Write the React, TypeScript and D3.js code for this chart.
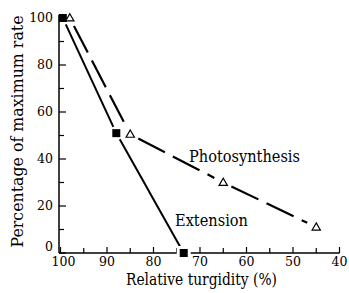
import React from "react";
import * as d3 from "d3";

const extensionTurgidity = [99.5, 88, 73.5];
const extensionRate = [100, 51, 0];
const photoTurgidity = [98, 85, 65, 45];
const photoRate = [100, 50.5, 30, 11];
const xTicksMajor = [100, 90, 80, 70, 60, 50, 40];
const xTicksMinor = [95, 85, 75, 65, 55, 45];
const yTicksMajor = [0, 20, 40, 60, 80, 100];
const yTicksMinor = [10, 30, 50, 70, 90];
const seriesLabels = ["Photosynthesis", "Extension"];
const xTitle = "Relative turgidity (%)";
const yTitle = "Percentage of maximum rate";

const W = 349;
const H = 293;
const FONT = "'DejaVu Serif', 'Liberation Serif', serif";

const x = d3.scaleLinear().domain([100, 40]).range([60.5, 339.5]);
const y = d3.scaleLinear().domain([0, 100]).range([253, 18]);

type P = [number, number];

function segments(xs: number[], ys: number[], g0: number, g1: number) {
  const pts: P[] = xs.map((v, i) => [x(v), y(ys[i])]);
  const segs: { x1: number; y1: number; x2: number; y2: number }[] = [];
  for (let i = 0; i < pts.length - 1; i++) {
    const [ax, ay] = pts[i];
    const [bx, by] = pts[i + 1];
    const L = Math.hypot(bx - ax, by - ay);
    const ux = (bx - ax) / L;
    const uy = (by - ay) / L;
    segs.push({
      x1: ax + ux * g0,
      y1: ay + uy * g0,
      x2: bx - ux * g1,
      y2: by - uy * g1,
    });
  }
  return segs;
}

export default function App() {
  const extSegs = segments(extensionTurgidity, extensionRate, 7, 7);
  const phoSegs = segments(photoTurgidity, photoRate, 9, 10);
  const triangle = d3.symbol().type(d3.symbolTriangle).size(30)();

  return (
    <svg
      width={W}
      height={H}
      style={{ position: "absolute", left: 0, top: 0, display: "block", background: "#fff", fontFamily: FONT }}
    >
      <rect x={0} y={0} width={W} height={H} fill="#fff" />
      {/* axes */}
      <line x1={59} y1={y(0)} x2={59} y2={15} stroke="#000" strokeWidth={1.5} />
      <line x1={59} y1={y(0)} x2={x(40)} y2={y(0)} stroke="#000" strokeWidth={1.5} />
      {yTicksMajor.map((t) => (
        <g key={"ym" + t}>
          <line x1={59} x2={66} y1={y(t)} y2={y(t)} stroke="#000" strokeWidth={1.2} />
          <text x={53} y={y(t) + (t === 0 ? -2 : 4)} textAnchor="end" fontSize={12.5}>
            {t}
          </text>
        </g>
      ))}
      {yTicksMinor.map((t) => (
        <line key={"yn" + t} x1={59} x2={64} y1={y(t)} y2={y(t)} stroke="#000" strokeWidth={1.2} />
      ))}
      {xTicksMajor.map((t) => (
        <g key={"xm" + t}>
          <line x1={x(t)} x2={x(t)} y1={y(0)} y2={y(0) - 6} stroke="#000" strokeWidth={1.2} />
          <text x={x(t) + (t === 100 ? 3 : 0)} y={266} textAnchor="middle" fontSize={12.5}>
            {t}
          </text>
        </g>
      ))}
      {xTicksMinor.map((t) => (
        <line key={"xn" + t} x1={x(t)} x2={x(t)} y1={y(0)} y2={y(0) - 5} stroke="#000" strokeWidth={1.2} />
      ))}
      {/* titles */}
      <text x={126} y={285} fontSize={16.5} textLength={151} lengthAdjust="spacingAndGlyphs">
        {xTitle}
      </text>
      <text
        transform={`translate(23, 131.5) rotate(-90)`}
        textAnchor="middle"
        fontSize={16.5}
        textLength={232}
        lengthAdjust="spacingAndGlyphs"
      >
        {yTitle}
      </text>
      {/* lines */}
      {extSegs.map((s, i) => (
        <line key={"e" + i} {...s} stroke="#000" strokeWidth={2} />
      ))}
      {phoSegs.map((s, i) => (
        <line key={"p" + i} {...s} stroke="#000" strokeWidth={2.2} strokeDasharray="30,9" />
      ))}
      {/* markers */}
      {extensionTurgidity.map((v, i) => (
        <rect
          key={"sq" + i}
          x={x(v) - 4}
          y={y(extensionRate[i]) - 4}
          width={8}
          height={8}
          fill="#000"
          stroke="#fff"
          strokeWidth={i === extensionTurgidity.length - 1 ? 6 : 0}
          paintOrder="stroke"
        />
      ))}
      {photoTurgidity.map((v, i) => (
        <path
          key={"tr" + i}
          d={triangle || ""}
          transform={`translate(${x(v)}, ${y(photoRate[i]) + 0.5})`}
          fill="#fff"
          stroke="#000"
          strokeWidth={1.2}
        />
      ))}
      {/* series labels */}
      <text x={189} y={162} fontSize={16.5} textLength={111} lengthAdjust="spacingAndGlyphs">
        {seriesLabels[0]}
      </text>
      <text x={175} y={226} fontSize={16.5} textLength={73} lengthAdjust="spacingAndGlyphs">
        {seriesLabels[1]}
      </text>
    </svg>
  );
}
